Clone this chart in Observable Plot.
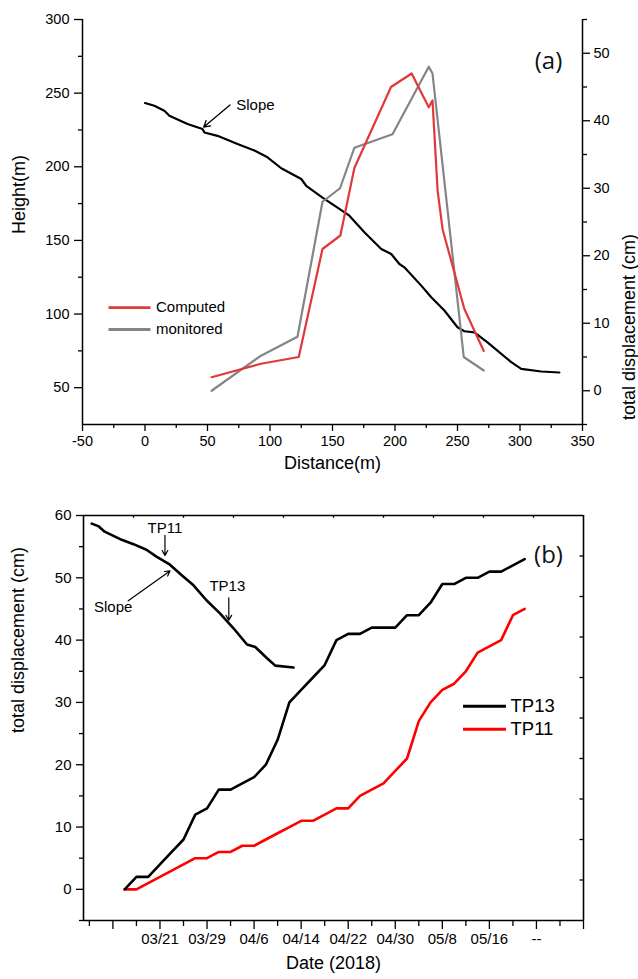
<!DOCTYPE html>
<html><head><meta charset="utf-8">
<script src="https://cdn.jsdelivr.net/npm/d3@7"></script>
<script src="https://cdn.jsdelivr.net/npm/@observablehq/plot@0.6"></script>
<style>
body{margin:0;background:#fff;width:638px;height:979px;overflow:hidden;font-family:"Liberation Sans",Arial,sans-serif}
svg{display:block}
</style></head><body><div id="a"></div><div id="b"></div>
<script>
// ---------- Panel (a) data ----------
const slopeDist   = [0, 7.5, 15.5, 19.5, 34, 46, 47.5, 58, 74, 87.5, 98, 109, 125, 129, 142, 155.5, 163.5, 175.5, 189, 197, 203.5, 207.5, 221, 229, 239.5, 250, 255.5, 263.5, 274, 293, 301, 317, 331.5];
const slopeHeight = [243.3, 241.4, 238, 234.7, 229, 225.6, 223.3, 221, 215.5, 211, 206.4, 199, 191.7, 187, 179, 171.4, 166.8, 155.5, 144.2, 140.8, 134, 131.7, 119.3, 111.4, 102.4, 91, 88.3, 87.6, 80.8, 67.3, 62.8, 61, 60.3];
const compDist = [53.3, 92.8, 123, 142, 156.3, 167.5, 196.8, 213.3, 227, 230, 234.1, 238.1, 255.5, 271];
const compDisp = [2, 4, 5, 21, 23, 33, 45, 47, 42, 43, 29.6, 23.9, 12.1, 5.9];
const monDist  = [53.3, 92.8, 122, 142, 156, 167.5, 198, 227, 230, 255, 271];
const monDisp  = [0, 5.2, 8, 28, 30, 36, 38, 48, 47, 5, 3];
const xTicksA = [-50, 0, 50, 100, 150, 200, 250, 300, 350];
const xMinorA = [-25, 25, 75, 125, 175, 225, 275, 325];
const yTicksA = [50, 100, 150, 200, 250, 300];
const yMinorA = [75, 125, 175, 225, 275];
const rTicksA = [0, 10, 20, 30, 40, 50];
const rMinorA = [-5, 5, 15, 25, 35, 45, 55];
const legendA = [{name: "Computed", color: "#e0393b"}, {name: "monitored", color: "#858585"}];
// annotation anchors (data coordinates)
const slopeArrowA = [{x1: 68, y1: 242, x2: 47, y2: 227}];
const slopeLabelA = [{x: 73, y: 241.5, text: "Slope"}];

// ---------- Panel (b) data ----------
const days = [15,17,19,21,23,25,27,29,31,33,35,37,39,41,43,45,47,49,51,53,55,57,59,61,63,65,67,69,71,73,75,77,79,81,83]; // day of March 2018 (Apr 1 = 32)
const tp13 = [0,2,2,4,6,8,12,13,16,16,17,18,20,24,30,32,34,36,40,41,41,42,42,42,44,44,46,49,49,50,50,51,51,52,53];
const tp11 = [0,0,1,2,3,4,5,5,6,6,7,7,8,9,10,11,11,12,13,13,15,16,17,19,21,27,30,32,33,35,38,39,40,44,45];
const insetX = [9.4,10.5,11.6,14.5,16.5,18.7,20.4,22.7,24.7,26.7,28.9,31.2,33.5,35.8,37.2,39.2,40.6,43.7];
const insetY = [58.7,58.3,57.4,56.1,55.4,54.5,53.4,52.1,50.4,48.8,46.4,44.3,41.9,39.3,38.9,37.1,35.9,35.6];
const xTickDaysB = [21,29,37,45,53,61,69,77,85];
const xTickLabelsB = ["03/21","03/29","04/6","04/14","04/22","04/30","05/8","05/16","--"];
const xMajorExtraB = [13, 93];
const xMinorB = [9,17,25,33,41,49,57,65,73,81,89];
const yTicksB = [0,10,20,30,40,50,60];
const yMinorB = [-5,5,15,25,35,45,55];
const legendB = [{name: "TP13", color: "#000"}, {name: "TP11", color: "#ff0000"}];
const labelsB = [{x: 21.85, y: 57.9, text: "TP11"}, {x: 32.45, y: 48.7, text: "TP13"}, {x: 13.05, y: 45.3, text: "Slope"}];
const arrowsB = [
  {x1: 21.85, y1: 56.8, x2: 21.85, y2: 53.6},
  {x1: 32.7, y1: 46.8, x2: 32.7, y2: 43.2},
  {x1: 15.6, y1: 46.3, x2: 22.7, y2: 51.1}
];

const FONT = '"Liberation Sans", Arial, sans-serif';

// ---------- Panel (a) ----------
const yA = [25, 300], rA = [-5, 55];
const toH = d => yA[0] + (d - rA[0]) * (yA[1] - yA[0]) / (rA[1] - rA[0]);
const fromH = h => rA[0] + (h - yA[0]) * (rA[1] - rA[0]) / (yA[1] - yA[0]);
const slope = slopeDist.map((d, i) => ({d, h: slopeHeight[i]}));
const comp = compDist.map((d, i) => ({d, v: compDisp[i]}));
const mon = monDist.map((d, i) => ({d, v: monDisp[i]}));

const legA = legendA.map((l, i) => ({...l, i}));
const plotA = Plot.plot({
  width: 638, height: 490, marginLeft: 82, marginRight: 56, marginTop: 19, marginBottom: 66,
  style: {fontFamily: FONT, fontSize: "14.5px", color: "#000", background: "#fff", overflow: "visible"},
  x: {domain: [-50, 350]},
  y: {domain: yA},
  marks: [
    Plot.axisY({ticks: yTicksA, tickSize: 8, tickPadding: 5, label: null, tickFormat: d => String(d), strokeWidth: 1.3}),
    Plot.axisY({ticks: yMinorA, tickSize: 4, label: null, tickFormat: () => "", strokeWidth: 1.3}),
    Plot.axisX({ticks: xTicksA, tickSize: 7, tickPadding: 4, label: null, tickFormat: d => String(d), strokeWidth: 1.3}),
    Plot.axisX({ticks: xMinorA, tickSize: 4, label: null, tickFormat: () => "", strokeWidth: 1.3}),
    Plot.axisY({anchor: "right", ticks: rTicksA.map(toH), tickSize: 7, tickPadding: 4, label: null,
      tickFormat: v => String(Math.round(fromH(v))), strokeWidth: 1.3}),
    Plot.axisY({anchor: "right", ticks: rMinorA.map(toH), tickSize: 4, label: null, tickFormat: () => "", strokeWidth: 1.3}),
    Plot.ruleX([-50], {strokeWidth: 1.5}),
    Plot.ruleX([350], {strokeWidth: 1.5}),
    Plot.ruleY([25], {strokeWidth: 1.5}),
    Plot.line(slope, {x: "d", y: "h", stroke: "#000", strokeWidth: 2.2}),
    Plot.line(mon, {x: "d", y: d => toH(d.v), stroke: legendA[1].color, strokeWidth: 2.2}),
    Plot.line(comp, {x: "d", y: d => toH(d.v), stroke: legendA[0].color, strokeWidth: 2.2}),
    Plot.arrow(slopeArrowA, {x1: "x1", y1: "y1", x2: "x2", y2: "y2", stroke: "#000", strokeWidth: 1.3, headLength: 8}),
    Plot.text(slopeLabelA, {x: "x", y: "y", text: "text", textAnchor: "start", fontSize: 15}),
    // legend
    Plot.ruleY(legA, {y: d => 104.4 - d.i * 14.9, x1: -28.8, x2: 4.8, stroke: "color", strokeWidth: 2.8}),
    Plot.text(legA, {y: d => 104.4 - d.i * 14.9, x: 8.8, text: "name", textAnchor: "start", fontSize: 15}),
    Plot.text(["(a)"], {frameAnchor: "top-right", dx: -34, dy: 32, text: d => d, fontSize: 24, fontFamily: '"Open Sans", sans-serif', fill: "#111", textAnchor: "middle"}),
    // axis titles
    Plot.text(["Height(m)"], {frameAnchor: "left", dx: -63, dy: 12, rotate: -90, text: d => d, fontSize: 18}),
    Plot.text(["total displacement (cm)"], {frameAnchor: "right", dx: 47, dy: 12, rotate: -90, text: d => d, fontSize: 18}),
    Plot.text(["Distance(m)"], {frameAnchor: "bottom", dy: 44, text: d => d, fontSize: 18})
  ]
});
document.getElementById("a").append(plotA);

// ---------- Panel (b) ----------
const xB = [8, 93], yB = [-5, 60];
const s13 = days.map((d, i) => ({d, v: tp13[i]}));
const s11 = days.map((d, i) => ({d, v: tp11[i]}));
const inset = insetX.map((d, i) => ({d, v: insetY[i]}));
const topTicks = d3.range(1, 10).map(i => xB[0] + i * (xB[1] - xB[0]) / 10);
const rightTicks = d3.range(1, 10).map(i => yB[0] + i * (yB[1] - yB[0]) / 10);
const legB = legendB.map((l, i) => ({...l, i}));

const plotB = Plot.plot({
  width: 638, height: 489, marginLeft: 83, marginRight: 55, marginTop: 25, marginBottom: 59,
  style: {fontFamily: FONT, fontSize: "15px", color: "#000", background: "#fff", overflow: "visible"},
  x: {domain: xB},
  y: {domain: yB},
  marks: [
    Plot.axisY({ticks: yTicksB, tickSize: 7, tickPadding: 5, label: null, tickFormat: d => String(d), strokeWidth: 1.3}),
    Plot.axisY({ticks: yMinorB, tickSize: 4, label: null, tickFormat: () => "", strokeWidth: 1.3}),
    Plot.axisX({ticks: xTickDaysB, tickSize: 9, tickPadding: 4, label: null,
      tickFormat: d => xTickLabelsB[xTickDaysB.indexOf(d)], strokeWidth: 1.3}),
    Plot.axisX({ticks: xMajorExtraB, tickSize: 9, label: null, tickFormat: () => "", strokeWidth: 1.3}),
    Plot.axisX({ticks: xMinorB, tickSize: 6, label: null, tickFormat: () => "", strokeWidth: 1.3}),
    Plot.ruleX(topTicks, {x: d => d, y1: yB[1], y2: yB[1] - 0.45, strokeWidth: 1.3}),
    Plot.ruleY(rightTicks, {y: d => d, x1: xB[1], x2: xB[1] - 0.6, strokeWidth: 1.3}),
    Plot.ruleX(xB, {strokeWidth: 1.6}),
    Plot.ruleY(yB, {strokeWidth: 1.6}),
    Plot.line(inset, {x: "d", y: "v", stroke: "#000", strokeWidth: 2.6}),
    Plot.line(s11, {x: "d", y: "v", stroke: legendB[1].color, strokeWidth: 2.6}),
    Plot.line(s13, {x: "d", y: "v", stroke: legendB[0].color, strokeWidth: 2.6}),
    Plot.arrow(arrowsB, {x1: "x1", y1: "y1", x2: "x2", y2: "y2", stroke: "#000", strokeWidth: 1.2, headLength: 7}),
    Plot.text(labelsB, {x: "x", y: "y", text: "text", fontSize: 15}),
    // legend
    Plot.ruleY(legB, {y: d => 29.4 - d.i * 3.7, x1: 72.6, x2: 79.9, stroke: "color", strokeWidth: 3}),
    Plot.text(legB, {y: d => 29.4 - d.i * 3.7, x: 80.6, text: "name", textAnchor: "start", fontSize: 18.5}),
    Plot.text(["(b)"], {frameAnchor: "top-right", dx: -35, dy: 30, text: d => d, fontSize: 24, fontFamily: '"Open Sans", sans-serif', fill: "#111", textAnchor: "middle"}),
    // axis titles
    Plot.text(["total displacement (cm)"], {frameAnchor: "left", dx: -65, dy: 15, rotate: -90, text: d => d, fontSize: 18}),
    Plot.text(["Date (2018)"], {frameAnchor: "bottom", dy: 48, text: d => d, fontSize: 18})
  ]
});
document.getElementById("b").append(plotB);
</script></body></html>
